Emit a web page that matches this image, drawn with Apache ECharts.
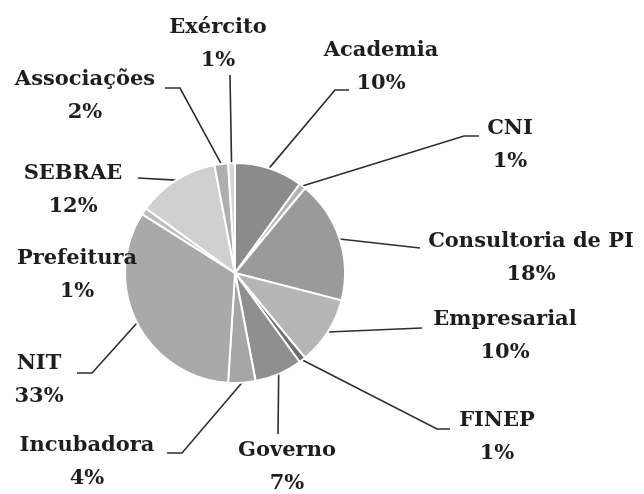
<!DOCTYPE html>
<html>
<head>
<meta charset="utf-8">
<script src="https://cdn.jsdelivr.net/npm/echarts@6/dist/echarts.min.js"></script>
<style>
  html, body { margin: 0; padding: 0; background: #fff; }
  #chart { width: 644px; height: 494px; }
</style>
</head>
<body>
<div id="chart"></div>
<script>
// dados (percentual por origem), no sentido horário a partir do topo
const categorias = ['Academia', 'CNI', 'Consultoria de PI', 'Empresarial', 'FINEP', 'Governo',
  'Incubadora', 'NIT', 'Prefeitura', 'SEBRAE', 'Associações', 'Exército']
const valores = [10, 1, 18, 10, 1, 7, 4, 33, 1, 12, 2, 1]

// tons de cinza de cada fatia
const cores = ['#8b8b8b', '#b3b3b3', '#9a9a9a', '#b6b6b6', '#6f6f6f', '#8f8f8f',
  '#a6a6a6', '#a9a9a9', '#bdbdbd', '#d0d0d0', '#afafaf', '#d6d6d6']

// posição dos rótulos (centro do texto) e pontos da linha guia: [cotovelo, fim]
const rotulos = [
  { x: 381, y: 67, linha: [[335, 90], [349, 90]] },
  { x: 510, y: 145, linha: [[464, 136], [479, 136]] },
  { x: 531, y: 258, linha: [[420, 248], [420, 248]] },
  { x: 505, y: 336, linha: [[422, 328], [422, 328]] },
  { x: 497, y: 437, linha: [[437, 429], [450, 429]] },
  { x: 287, y: 467, linha: [[278, 434], [278, 434]] },
  { x: 87, y: 462, linha: [[182, 453], [167, 453]] },
  { x: 39, y: 380, linha: [[92, 373], [77, 373]] },
  { x: 77, y: 275, linha: null },
  { x: 73, y: 190, linha: [[138, 178], [138, 178]] },
  { x: 85, y: 96, linha: [[180, 88], [165, 88]] },
  { x: 218, y: 44, linha: [[230, 75], [230, 75]] }
]

const chart = echarts.init(document.getElementById('chart'))
chart.setOption({
  animation: false,
  series: [{
    type: 'pie',
    center: [235, 273],
    radius: 110,
    startAngle: 90,
    clockwise: true,
    avoidLabelOverlap: false,
    itemStyle: {
      borderColor: '#ffffff',
      borderWidth: 2
    },
    label: {
      show: true,
      position: 'outside',
      fontFamily: 'DejaVu Serif',
      fontWeight: 'bold',
      fontSize: 21,
      lineHeight: 33,
      color: '#1e1e1e',
      align: 'center',
      formatter: function (p) {
        return p.name + '\n' + p.value + '%'
      }
    },
    labelLine: {
      show: true,
      length: 15,
      length2: 10,
      lineStyle: { color: '#2e2e2e', width: 1.6 }
    },
    labelLayout: function (params) {
      const r = rotulos[params.dataIndex]
      const inicio = params.labelLinePoints ? params.labelLinePoints[0] : [0, 0]
      const pontos = r.linha
        ? [inicio, r.linha[0], r.linha[1]]
        : [inicio, inicio, inicio]
      return {
        x: r.x,
        y: r.y,
        align: 'center',
        verticalAlign: 'middle',
        labelLinePoints: pontos
      }
    },
    data: categorias.map(function (nome, i) {
      return { name: nome, value: valores[i], itemStyle: { color: cores[i] } }
    })
  }]
})
</script>
</body>
</html>
